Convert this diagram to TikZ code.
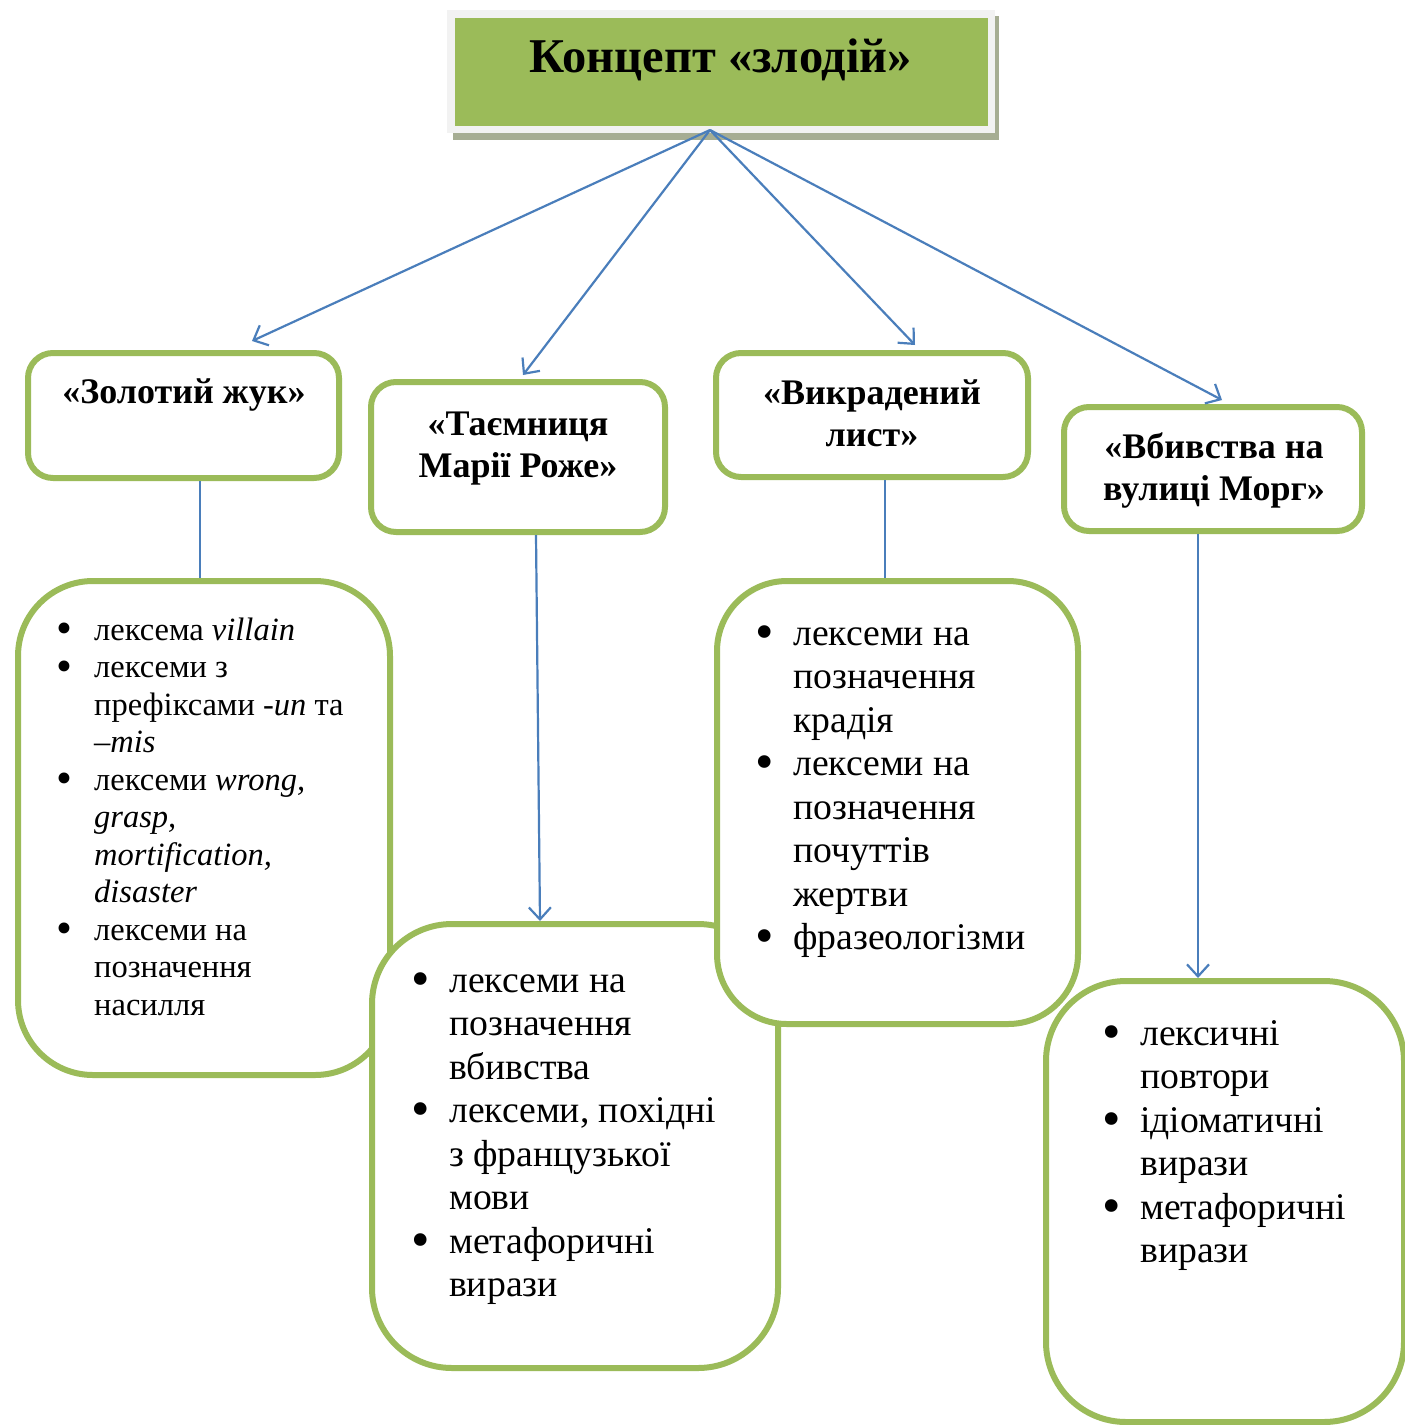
\documentclass[tikz,border=0pt]{standalone}
\usepackage{fontspec}
\setmainfont{Liberation Serif}
\usetikzlibrary{arrows.meta,calc}
\definecolor{gGreen}{HTML}{9BBB59}
\definecolor{gBlue}{HTML}{4A7EBB}
\definecolor{gShadow}{HTML}{A6AD93}
\definecolor{gFrame}{HTML}{F2F2F2}
\tikzset{
  titlebox/.style={draw=gGreen, line width=6pt, fill=white, rounded corners=25pt, inner sep=0pt},
  listbox/.style={draw=gGreen, line width=6pt, fill=white, inner sep=0pt},
  conn/.style={draw=gBlue, line width=2.2pt},
  arr/.style={conn, -{Straight Barb[length=12pt,width=22pt,line width=2.2pt]}},
  ttext/.style={anchor=base, inner sep=0pt, font=\fontsize{36}{42}\selectfont\bfseries},
  ltext/.style={anchor=base west, inner sep=0pt},
}
\newcommand{\bul}[1]{\makebox[#1][l]{\smash{\raisebox{-0.11em}{\scalebox{1.4}{•}}}}}
\begin{document}
\begin{tikzpicture}[x=1pt,y=-1pt]
\useasboundingbox (0,0) rectangle (1405,1425);
% title
\fill[gShadow] (453,16) rectangle (999,140);
\fill[gFrame] (447,10) rectangle (995,133);
\node[fill=gGreen, minimum width=533pt, minimum height=108pt, inner sep=0pt] (T) at (721.5,72) {};
\node[anchor=base, inner sep=0pt, font=\fontsize{48.5}{56}\selectfont\bfseries] (Tt) at (721,72) {Концепт «злодій»};
% story boxes
\node[titlebox, minimum width=311pt, minimum height=125pt] (A) at (183.5,415.5) {};
\node[titlebox, minimum width=294pt, minimum height=150pt] (B) at (518,457) {};
\node[titlebox, minimum width=312pt, minimum height=124pt] (C) at (872,415) {};
\node[titlebox, minimum width=298pt, minimum height=124pt] (D) at (1213,469) {};
\node[ttext] (At) at (184,403) {«Золотий жук»};
\node[ttext] (Bt) at (518,435) {\parbox[t]{290pt}{\centering «Таємниця\\Марії Роже»}};
\node[ttext] (Ct) at (872,404) {\parbox[t]{300pt}{\centering «Викрадений\\лист»}};
\node[ttext] (Dt) at (1214,458) {\parbox[t]{300pt}{\centering «Вбивства на\\вулиці Морг»}};
% arrows from title
\coordinate (src) at (710,130);
\coordinate (tA) at (252,341);
\coordinate (tB) at (523,375);
\coordinate (tC) at (915,345);
\coordinate (tD) at (1222,400);
\draw[arr] (src) -- (tA);
\draw[arr] (src) -- (tB);
\draw[arr] (src) -- (tC);
\draw[arr] (src) -- (tD);
% connectors to lists (drawn under the list boxes)
\draw[conn] ([xshift=16.5pt]A.south) -- ++(0,102);
\draw[conn] ([xshift=13pt]C.south) -- ++(0,102);
% list boxes
\node[listbox, rounded corners=75pt, minimum width=372pt, minimum height=494pt] (L1) at (204,828) {};
\node[listbox, rounded corners=80pt, minimum width=406pt, minimum height=444pt] (L2) at (575,1146) {};
\node[listbox, rounded corners=70pt, minimum width=361pt, minimum height=443pt] (L3) at (897.5,802.5) {};
\node[listbox, rounded corners=80pt, minimum width=358pt, minimum height=441pt] (L4) at (1225,1201.5) {};
% list texts
\node[ltext] (L1t) at (56,640) {\parbox[t]{340pt}{\fontsize{32.5}{37.5}\selectfont\raggedright
\bul{38pt}лексема \textit{villain}\\
\bul{38pt}лексеми з\\
\hspace*{38pt}префіксами -\textit{un} та\\
\hspace*{38pt}–\textit{mis}\\
\bul{38pt}лексеми \textit{wrong,}\\
\hspace*{38pt}\textit{grasp,}\\
\hspace*{38pt}\textit{mortification,}\\
\hspace*{38pt}\textit{disaster}\\
\bul{38pt}лексеми на\\
\hspace*{38pt}позначення\\
\hspace*{38pt}насилля}};
\node[ltext] (L2t) at (411,992) {\parbox[t]{380pt}{\fontsize{37.7}{43.5}\selectfont\raggedright
\bul{38pt}лексеми на\\
\hspace*{38pt}позначення\\
\hspace*{38pt}вбивства\\
\bul{38pt}лексеми, похідні\\
\hspace*{38pt}з французької\\
\hspace*{38pt}мови\\
\bul{38pt}метафоричні\\
\hspace*{38pt}вирази}};
\node[ltext] (L3t) at (755,645) {\parbox[t]{340pt}{\fontsize{37.7}{43.5}\selectfont\raggedright
\bul{38pt}лексеми на\\
\hspace*{38pt}позначення\\
\hspace*{38pt}крадія\\
\bul{38pt}лексеми на\\
\hspace*{38pt}позначення\\
\hspace*{38pt}почуттів\\
\hspace*{38pt}жертви\\
\bul{38pt}фразеологізми}};
\node[ltext] (L4t) at (1102,1045) {\parbox[t]{300pt}{\fontsize{37.7}{43.5}\selectfont\raggedright
\bul{38pt}лексичні\\
\hspace*{38pt}повтори\\
\bul{38pt}ідіоматичні\\
\hspace*{38pt}вирази\\
\bul{38pt}метафоричні\\
\hspace*{38pt}вирази}};
% arrows down to lists
\draw[arr] ([xshift=18pt]B.south) -- ([xshift=-35pt]L2.north);
\draw[arr] ([xshift=-15pt]D.south) -- ([xshift=-27pt]L4.north);
\end{tikzpicture}
\end{document}
